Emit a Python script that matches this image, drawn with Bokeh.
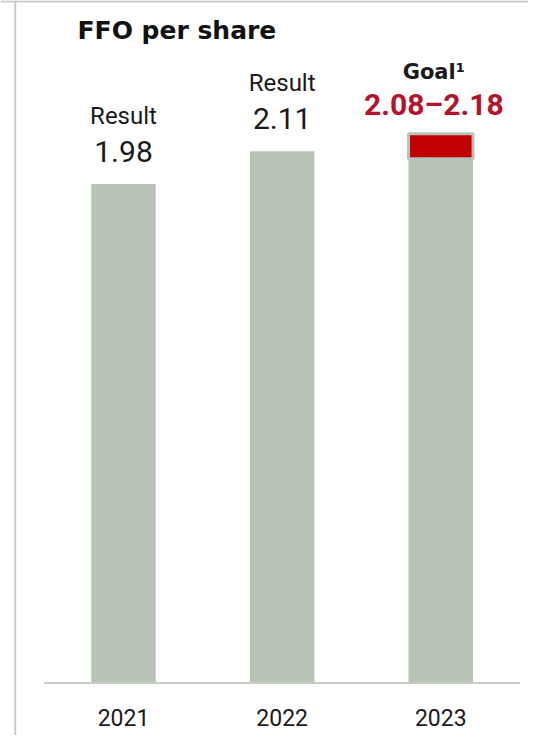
from bokeh.plotting import figure
from bokeh.models import ColumnDataSource, Range1d, Span, Label
from bokeh.embed import file_html
from bokeh.resources import INLINE
from bokeh.core.properties import value

# ---- data ----
years = [2021, 2022, 2023]
year_labels = ["2021", "2022", "2023"]
results = [1.98, 2.11]          # 2021, 2022 results
result_years = [2021, 2022]
goal_low = 2.08
goal_high = 2.18
bar_values = results + [goal_high]

GRAY = "#b9c2b7"
RED_FILL = "#c00000"
RED_TEXT = "#b4122d"
BORDER = "#c7ccc5"

p = figure(width=528, height=735, output_backend="svg", toolbar_location=None,
           x_range=Range1d(2020.2247, 2023.5528), y_range=Range1d(-0.2083, 2.7083),
           x_axis_location=None, y_axis_location=None, min_border=0,
           outline_line_color=None, background_fill_color="white",
           border_fill_color="white")
p.grid.visible = False

# frame lines (left and top)
p.add_layout(Span(location=2020.3174, dimension="height", line_color=BORDER, line_width=2))
p.add_layout(Span(location=2.7043, dimension="width", line_color=BORDER, line_width=2))

# bars
src = ColumnDataSource(dict(x=years, top=bar_values))
p.vbar(x="x", top="top", bottom=0, width=0.4066, source=src,
       fill_color=GRAY, line_color=None)
# goal range
p.vbar(x=[years[2]], bottom=[goal_low], top=[goal_high], width=0.4066,
       fill_color=RED_FILL, line_color=GRAY, line_width=3)

# baseline
p.segment(x0=[years[0] - 0.5], x1=[years[-1] + 0.5], y0=[0], y1=[0],
          line_color=BORDER, line_width=2)

# year labels
p.text(x=years, y=[0] * len(years), text=year_labels, y_offset=34,
       text_align="center", text_baseline="alphabetic",
       text_font=value("Roboto"), text_font_size="23px", text_color="#1a1a1a")

# result labels
p.text(x=result_years, y=results, text=["Result"] * len(results), y_offset=-68,
       text_align="center", text_baseline="alphabetic",
       text_font=value("Roboto"), text_font_size="24px", text_color="#1a1a1a")
p.text(x=result_years, y=results, text=[f"{v:.2f}" for v in results], y_offset=-33,
       text_align="center", text_baseline="alphabetic",
       text_font=value("Roboto"), text_font_size="30px", text_color="#1a1a1a")

# goal labels
p.text(x=[years[2]], y=[goal_high], text=["Goal\u00b9"], y_offset=-62, x_offset=-7,
       text_align="center", text_baseline="alphabetic",
       text_font=value("DejaVu Sans"), text_font_style="bold",
       text_font_size="21px", text_color="#1a1a1a")
p.text(x=[years[2]], y=[goal_high], text=[f"{goal_low:.2f}\u2013{goal_high:.2f}"],
       y_offset=-29, x_offset=-7,
       text_align="center", text_baseline="alphabetic",
       text_font=value("Roboto"), text_font_style="bold",
       text_font_size="30px", text_color=RED_TEXT)

# title
p.add_layout(Label(x=2020.71, y=2.5895, text="FFO per share",
                   text_font="DejaVu Sans", text_font_style="bold",
                   text_font_size="25px", text_color="#111111",
                   text_baseline="alphabetic", text_align="left"))

open("out.html", "w").write(file_html(p, INLINE))
